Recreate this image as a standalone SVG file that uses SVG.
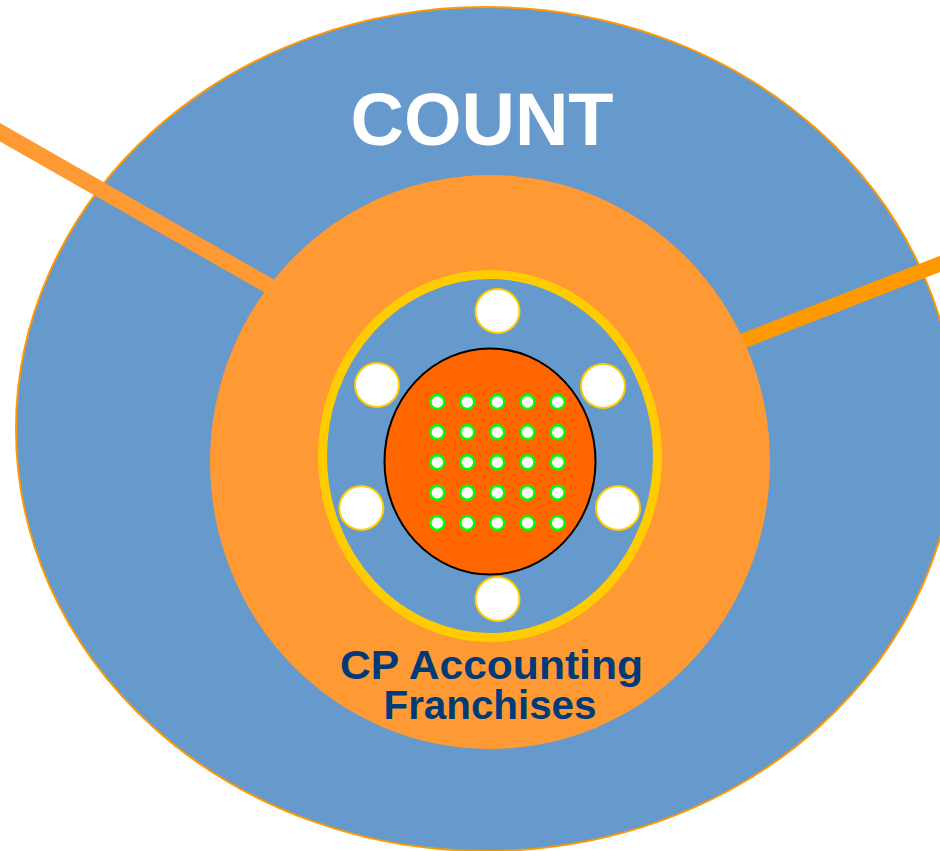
<svg xmlns="http://www.w3.org/2000/svg" width="940" height="851" viewBox="0 0 940 851">
  <style>
    .label { font-family: "Liberation Sans", Arial, sans-serif; font-weight: bold; text-anchor: middle; }
    .seat { fill: #FFFFFF; stroke: #FFCC00; stroke-width: 2; }
    .dot { fill: #FFFFFF; stroke: #00FF00; stroke-width: 2.5; }
  </style>
  <rect width="940" height="851" fill="#FFFFFF"/>

  <!-- outer ring -->
  <g id="count">
    <ellipse cx="486" cy="429" rx="470" ry="422" fill="#6699CC" stroke="#FF9900" stroke-width="2"/>
    <text class="label" x="482" y="145" font-size="74" fill="#FFFFFF">COUNT</text>
  </g>

  <!-- connectors running out of the orange ring -->
  <g id="connectors">
    <line x1="-10" y1="126.5" x2="285" y2="295" stroke="#FF9933" stroke-width="16"/>
    <line x1="720" y1="350" x2="950" y2="260" stroke="#FF9900" stroke-width="15"/>
  </g>

  <!-- franchise ring -->
  <g id="franchises">
    <ellipse cx="490" cy="462" rx="280" ry="287" fill="#FF9933"/>
    <text class="label" x="491.5" y="679" font-size="40" fill="#003A78" textLength="303" lengthAdjust="spacingAndGlyphs">CP Accounting</text>
    <text class="label" x="490" y="719" font-size="40" fill="#003A78" textLength="213" lengthAdjust="spacingAndGlyphs">Franchises</text>
  </g>

  <!-- inner ring with seats -->
  <g id="inner-ring">
    <ellipse cx="490" cy="456" rx="167.5" ry="181.5" fill="#6699CC" stroke="#FFCC00" stroke-width="9"/>
    <circle class="seat" cx="497.5" cy="311" r="22"/>
    <circle class="seat" cx="377" cy="385" r="22"/>
    <circle class="seat" cx="603" cy="386" r="22"/>
    <circle class="seat" cx="361.3" cy="508" r="22"/>
    <circle class="seat" cx="618" cy="508" r="22"/>
    <circle class="seat" cx="497.5" cy="599" r="22"/>
  </g>

  <!-- core with grid of points -->
  <g id="core">
    <ellipse cx="490" cy="461.5" rx="105.5" ry="113" fill="#FF6600" stroke="#000000" stroke-width="2"/>
    <g>
      <circle class="dot" cx="437.3" cy="402" r="7"/>
      <circle class="dot" cx="467.3" cy="402" r="7"/>
      <circle class="dot" cx="497.3" cy="402" r="7"/>
      <circle class="dot" cx="527.5" cy="402" r="7"/>
      <circle class="dot" cx="557.7" cy="402" r="7"/>
      <circle class="dot" cx="437.3" cy="432.3" r="7"/>
      <circle class="dot" cx="467.3" cy="432.3" r="7"/>
      <circle class="dot" cx="497.3" cy="432.3" r="7"/>
      <circle class="dot" cx="527.5" cy="432.3" r="7"/>
      <circle class="dot" cx="557.7" cy="432.3" r="7"/>
      <circle class="dot" cx="437.3" cy="462.3" r="7"/>
      <circle class="dot" cx="467.3" cy="462.3" r="7"/>
      <circle class="dot" cx="497.3" cy="462.3" r="7"/>
      <circle class="dot" cx="527.5" cy="462.3" r="7"/>
      <circle class="dot" cx="557.7" cy="462.3" r="7"/>
      <circle class="dot" cx="437.3" cy="492.7" r="7"/>
      <circle class="dot" cx="467.3" cy="492.7" r="7"/>
      <circle class="dot" cx="497.3" cy="492.7" r="7"/>
      <circle class="dot" cx="527.5" cy="492.7" r="7"/>
      <circle class="dot" cx="557.7" cy="492.7" r="7"/>
      <circle class="dot" cx="437.3" cy="523" r="7"/>
      <circle class="dot" cx="467.3" cy="523" r="7"/>
      <circle class="dot" cx="497.3" cy="523" r="7"/>
      <circle class="dot" cx="527.5" cy="523" r="7"/>
      <circle class="dot" cx="557.7" cy="523" r="7"/>
    </g>
  </g>
</svg>
